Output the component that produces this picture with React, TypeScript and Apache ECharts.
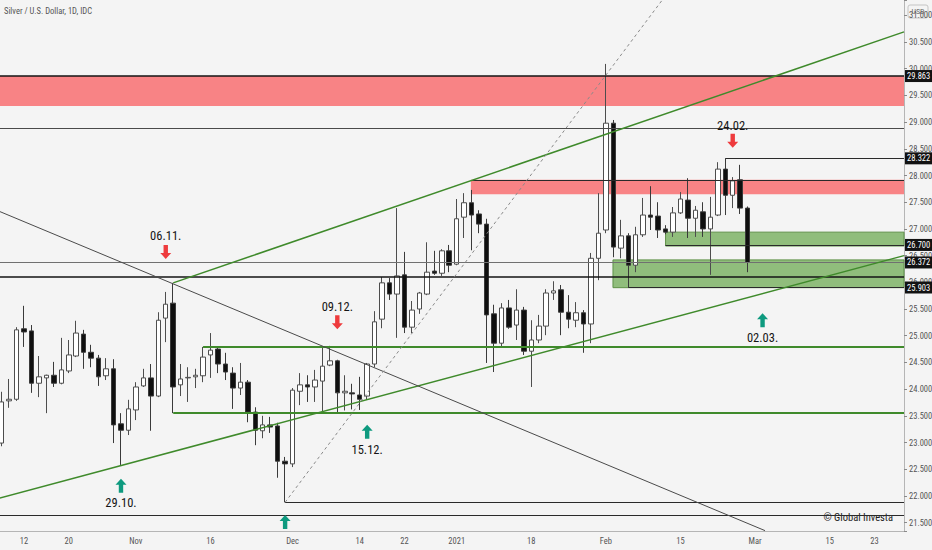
import React, { useEffect, useRef } from 'react';
import * as echarts from 'echarts';

// date, open, close, low, high
const candles: [string, number, number, number, number][] = [
  ['2020-10-07', 22.99, 23.76, 22.93, 23.95],
  ['2020-10-08', 23.78, 23.81, 23.65, 24.19],
  ['2020-10-09', 23.81, 25.11, 23.78, 25.16],
  ['2020-10-12', 25.13, 25.07, 24.79, 25.56],
  ['2020-10-13', 25.09, 24.11, 23.93, 25.2],
  ['2020-10-14', 24.11, 24.23, 23.85, 24.62],
  ['2020-10-15', 24.21, 24.26, 23.55, 24.27],
  ['2020-10-16', 24.26, 24.11, 24.04, 24.51],
  ['2020-10-19', 24.11, 24.36, 24.09, 24.96],
  ['2020-10-20', 24.34, 24.64, 24.3, 24.92],
  ['2020-10-21', 24.62, 25.05, 24.6, 25.28],
  ['2020-10-22', 25.03, 24.69, 24.38, 25.11],
  ['2020-10-23', 24.69, 24.58, 24.41, 24.83],
  ['2020-10-26', 24.58, 24.23, 24.06, 24.64],
  ['2020-10-27', 24.25, 24.38, 24.17, 24.58],
  ['2020-10-28', 24.38, 23.33, 22.99, 24.56],
  ['2020-10-29', 23.35, 23.23, 22.58, 23.55],
  ['2020-10-30', 23.23, 23.63, 23.14, 23.8],
  ['2020-11-02', 23.61, 24.04, 23.42, 24.13],
  ['2020-11-03', 24.06, 24.21, 24.04, 24.38],
  ['2020-11-04', 24.21, 23.87, 23.22, 24.47],
  ['2020-11-05', 23.87, 25.29, 23.85, 25.44],
  ['2020-11-06', 25.33, 25.59, 24.88, 25.82],
  ['2020-11-09', 25.61, 24.04, 23.55, 25.99],
  ['2020-11-10', 24.08, 24.19, 23.87, 24.47],
  ['2020-11-11', 24.21, 24.22, 23.76, 24.41],
  ['2020-11-12', 24.23, 24.26, 24.02, 24.38],
  ['2020-11-13', 24.25, 24.6, 24.13, 24.79],
  ['2020-11-16', 24.64, 24.73, 24.21, 25.05],
  ['2020-11-17', 24.75, 24.47, 24.3, 24.79],
  ['2020-11-18', 24.47, 24.32, 24.17, 24.68],
  ['2020-11-19', 24.3, 24.02, 23.63, 24.41],
  ['2020-11-20', 24.02, 24.13, 23.89, 24.49],
  ['2020-11-23', 24.13, 23.57, 23.38, 24.17],
  ['2020-11-24', 23.57, 23.23, 22.95, 23.66],
  ['2020-11-25', 23.22, 23.33, 23.08, 23.5],
  ['2020-11-26', 23.33, 23.29, 23.18, 23.48],
  ['2020-11-27', 23.31, 22.65, 22.34, 23.37],
  ['2020-11-30', 22.65, 22.6, 21.88, 22.73],
  ['2020-12-01', 22.6, 23.98, 22.54, 24.02],
  ['2020-12-02', 23.96, 24.08, 23.7, 24.3],
  ['2020-12-03', 24.08, 24.04, 23.76, 24.26],
  ['2020-12-04', 24.04, 24.17, 23.76, 24.36],
  ['2020-12-07', 24.15, 24.43, 23.57, 24.79],
  ['2020-12-08', 24.45, 24.53, 24.43, 24.81],
  ['2020-12-09', 24.53, 23.93, 23.57, 24.55],
  ['2020-12-10', 23.93, 23.96, 23.6, 24.26],
  ['2020-12-11', 23.93, 23.91, 23.62, 24.1],
  ['2020-12-14', 23.89, 23.81, 23.61, 24.23],
  ['2020-12-15', 23.87, 24.47, 23.8, 24.49],
  ['2020-12-16', 24.47, 25.26, 24.41, 25.46],
  ['2020-12-17', 25.31, 25.99, 25.14, 26.1],
  ['2020-12-18', 25.99, 25.78, 25.67, 26.08],
  ['2020-12-21', 25.78, 26.12, 24.96, 27.39],
  ['2020-12-22', 26.14, 25.16, 25.05, 26.57],
  ['2020-12-23', 25.16, 25.48, 25.05, 25.65],
  ['2020-12-24', 25.5, 25.8, 25.41, 25.82],
  ['2020-12-28', 25.78, 26.19, 25.76, 26.75],
  ['2020-12-29', 26.21, 26.17, 26.14, 26.59],
  ['2020-12-30', 26.17, 26.59, 26.12, 26.62],
  ['2020-12-31', 26.59, 26.32, 26.19, 26.7],
  ['2021-01-04', 26.34, 27.19, 26.32, 27.56],
  ['2021-01-05', 27.22, 27.49, 26.83, 27.67],
  ['2021-01-06', 27.49, 27.26, 26.6, 27.73],
  ['2021-01-07', 27.28, 27.09, 26.92, 27.35],
  ['2021-01-08', 27.09, 25.39, 24.49, 27.19],
  ['2021-01-11', 25.41, 24.86, 24.32, 25.58],
  ['2021-01-12', 24.86, 25.52, 24.77, 25.61],
  ['2021-01-13', 25.52, 25.16, 25.13, 25.67],
  ['2021-01-14', 25.2, 25.48, 24.92, 25.87],
  ['2021-01-15', 25.48, 24.71, 24.64, 25.54],
  ['2021-01-18', 24.71, 24.92, 24.04, 25.29],
  ['2021-01-19', 24.92, 25.18, 24.86, 25.39],
  ['2021-01-20', 25.18, 25.8, 25.01, 25.87],
  ['2021-01-21', 25.8, 25.84, 25.67, 26.02],
  ['2021-01-22', 25.86, 25.44, 25.01, 25.95],
  ['2021-01-25', 25.44, 25.31, 25.14, 25.76],
  ['2021-01-26', 25.29, 25.43, 25.16, 25.63],
  ['2021-01-27', 25.43, 25.22, 24.68, 25.48],
  ['2021-01-28', 25.22, 26.45, 24.86, 26.55],
  ['2021-01-29', 26.45, 26.92, 26.04, 27.67],
  ['2021-02-01', 26.98, 28.98, 26.92, 30.09],
  ['2021-02-02', 28.98, 26.66, 26.47, 29.04],
  ['2021-02-03', 26.64, 26.87, 26.45, 27.17],
  ['2021-02-04', 26.87, 26.32, 25.91, 26.92],
  ['2021-02-05', 26.32, 26.89, 26.19, 27.04],
  ['2021-02-08', 26.89, 27.26, 26.85, 27.58],
  ['2021-02-09', 27.26, 27.22, 26.98, 27.8],
  ['2021-02-10', 27.24, 26.98, 26.83, 27.5],
  ['2021-02-11', 27.0, 26.94, 26.9, 27.07],
  ['2021-02-12', 26.94, 27.3, 26.85, 27.41],
  ['2021-02-15', 27.3, 27.56, 27.28, 27.69],
  ['2021-02-16', 27.54, 27.2, 26.83, 27.95],
  ['2021-02-17', 27.2, 27.35, 26.85, 27.43],
  ['2021-02-18', 27.32, 27.0, 26.85, 27.5],
  ['2021-02-19', 27.0, 27.22, 26.14, 27.6],
  ['2021-02-22', 27.26, 28.12, 27.24, 28.25],
  ['2021-02-23', 28.12, 27.63, 27.26, 28.32],
  ['2021-02-24', 27.63, 27.9, 27.39, 27.97],
  ['2021-02-25', 27.92, 27.39, 27.28, 28.2],
  ['2021-02-26', 27.39, 26.372, 26.19, 27.42],
];

// bar index -> tick label
const xTickLabels: [number, string][] = [
  [3, '12'], [9, '20'], [18, 'Nov'], [28, '16'], [39, 'Dec'], [48, '14'], [54, '22'],
  [61, '2021'], [71, '18'], [81, 'Feb'], [91, '15'], [101, 'Mar'], [111, '15'], [117, '23'],
];

const X_MIN = -0.5;
const X_MAX = 120.96;
const Y_MIN = 21.343;
const Y_MAX = 31.287;

// horizontal levels
const levels = [
  { price: 29.863, from: X_MIN, kind: 'heavy', badge: true },
  { price: 28.89, from: X_MIN, kind: 'gray', badge: false },
  { price: 28.322, from: 97, kind: 'thin', badge: true },
  { price: 27.92, from: 62.9, kind: 'thin', badge: false },
  { price: 26.7, from: 89, kind: 'thin', badge: true },
  { price: 26.372, from: X_MIN, kind: 'last', badge: true },
  { price: 26.1, from: X_MIN, kind: 'heavy', badge: false },
  { price: 25.903, from: 84, kind: 'thin', badge: true },
  { price: 24.79, from: 27, kind: 'green', badge: false },
  { price: 23.56, from: 23, kind: 'green', badge: false },
  { price: 21.88, from: 38, kind: 'thin', badge: false },
  { price: 21.64, from: X_MIN, kind: 'thin', badge: false },
];

// zones
const zones = [
  { from: X_MIN, low: 29.3, high: 29.863, kind: 'supply' },
  { from: 62.9, low: 27.65, high: 27.92, kind: 'supply' },
  { from: 89, low: 26.68, high: 26.94, kind: 'demand' },
  { from: 81.95, low: 25.9, high: 26.42, kind: 'demand' },
];

// trend lines
const trendLines = [
  { x1: 23, y1: 25.99, x2: X_MAX, y2: 30.69, kind: 'channel' },
  { x1: X_MIN, y1: 21.95, x2: X_MAX, y2: 26.5, kind: 'channel' },
  { x1: X_MIN, y1: 27.34, x2: 102.33, y2: 21.35, kind: 'gray' },
  { x1: 38, y1: 21.88, x2: 88.52, y2: 31.28, kind: 'dotted' },
];

// signals
const signals = [
  { idx: 22, arrow: 26.57, textAt: 26.87, text: '06.11.', dir: 'down' },
  { idx: 45, arrow: 25.25, textAt: 25.54, text: '09.12.', dir: 'down' },
  { idx: 98, arrow: 28.65, textAt: 28.93, text: '24.02.', dir: 'down' },
  { idx: 16, arrow: 22.19, textAt: 21.87, text: '29.10.', dir: 'up' },
  { idx: 49, arrow: 23.2, textAt: 22.86, text: '15.12.', dir: 'up' },
  { idx: 102, arrow: 25.29, textAt: 24.96, text: '02.03.', dir: 'up' },
  { idx: 38, arrow: 21.51, textAt: null, text: '', dir: 'up' },
];

const FONT = '"Liberation Sans Narrow", "Roboto Condensed", "DejaVu Sans Condensed", "Liberation Sans", sans-serif';

const lineStyles: Record<string, any> = {
  heavy: { color: '#141414', width: 1.6, type: 'solid' },
  thin: { color: '#2a2a2a', width: 1, type: 'solid' },
  gray: { color: '#4a4a4a', width: 1, type: 'solid' },
  last: { color: '#707070', width: 1, type: 'solid' },
  green: { color: '#3f8a2b', width: 2, type: 'solid' },
  channel: { color: '#3f8a2b', width: 1.5, type: 'solid' },
  dotted: { color: '#8a8a8a', width: 1, type: [3, 3] },
};

const zoneStyles: Record<string, any> = {
  supply: { color: '#f88385', borderColor: '#f88385', borderWidth: 0 },
  demand: { color: '#90bd7c', borderColor: '#5e9148', borderWidth: 1 },
};

const UP_ARROW = 'path://M5,0 L10,6 L7,6 L7,14 L3,14 L3,6 L0,6 Z';
const DOWN_ARROW = 'path://M3,0 L7,0 L7,8 L10,8 L5,14 L0,8 L3,8 Z';

export default function App() {
  const ref = useRef<HTMLDivElement>(null);

  useEffect(() => {
    document.body.style.margin = '0';
    const chart = echarts.init(ref.current as HTMLDivElement, null, { renderer: 'svg' });
    const labelMap = new Map<number, string>(xTickLabels);

    const markLineData: any[] = [];
    levels.forEach((l) => {
      markLineData.push([
        {
          coord: [l.from, l.price],
          lineStyle: lineStyles[l.kind],
          label: l.badge
            ? {
                show: true,
                position: 'end',
                distance: 1,
                formatter: l.price.toFixed(3),
                backgroundColor: '#121212',
                color: '#ffffff',
                padding: [2, 3, 1, 2],
                fontSize: 8.5,
                fontFamily: FONT,
              }
            : { show: false },
        },
        { coord: [X_MAX, l.price] },
      ]);
    });
    trendLines.forEach((t) => {
      markLineData.push([
        { coord: [t.x1, t.y1], lineStyle: lineStyles[t.kind], label: { show: false } },
        { coord: [t.x2, t.y2] },
      ]);
    });

    const markAreaData = zones.map((z) => [
      { coord: [z.from, z.high], itemStyle: zoneStyles[z.kind] },
      { coord: [X_MAX, z.low] },
    ]);

    const markPointData: any[] = [];
    signals.forEach((s) => {
      markPointData.push({
        coord: [s.idx, s.arrow],
        symbol: s.dir === 'up' ? UP_ARROW : DOWN_ARROW,
        symbolSize: [11, 14],
        itemStyle: { color: s.dir === 'up' ? '#0e9a7f' : '#ee3b3d' },
        label: { show: false },
      });
      if (s.textAt !== null) {
        markPointData.push({
          coord: [s.idx, s.textAt],
          symbol: 'rect',
          symbolSize: 1,
          itemStyle: { color: 'rgba(0,0,0,0)' },
          label: {
            show: true,
            position: 'inside',
            formatter: s.text,
            color: '#151515',
            fontSize: 12.5,
            fontFamily: FONT,
          },
        });
      }
    });

    const option: any = {
      animation: false,
      backgroundColor: '#f4f4f4',
      grid: {
        left: -2.11,
        right: 28,
        top: 0,
        bottom: 19,
        containLabel: false,
        outerBoundsMode: 'none',
      },
      xAxis: {
        type: 'value',
        min: X_MIN,
        max: X_MAX,
        interval: 0.5,
        axisLine: { show: true, onZero: false, lineStyle: { color: '#b5b5b5', width: 1 } },
        axisTick: { show: false },
        splitLine: { show: false },
        axisLabel: {
          color: '#555555',
          fontSize: 8.5,
          fontFamily: FONT,
          margin: 5,
          formatter: (v: number) => {
            const k = Math.round(v * 2) / 2;
            return Number.isInteger(k) ? labelMap.get(k) ?? '' : '';
          },
        },
      },
      yAxis: {
        type: 'value',
        position: 'right',
        min: Y_MIN,
        max: Y_MAX,
        splitNumber: 20,
        axisLine: { show: true, onZero: false, lineStyle: { color: '#b5b5b5', width: 1 } },
        axisTick: { show: true, length: 3, lineStyle: { color: '#8a8a8a' } },
        splitLine: { show: false },
        axisLabel: {
          color: '#555555',
          fontSize: 8.5,
          fontFamily: FONT,
          margin: 5,
          formatter: (v: number) =>
            Math.abs(v * 2 - Math.round(v * 2)) < 1e-6 ? v.toFixed(3) : '',
        },
      },
      series: [
        {
          type: 'candlestick',
          data: candles.map((c, i) => [i, c[1], c[2], c[3], c[4]]),
          encode: { x: 0, y: [1, 2, 3, 4] },
          barWidth: 5,
          clip: false,
          itemStyle: {
            color: '#ffffff',
            color0: '#0f0f0f',
            borderColor: '#4d4d4d',
            borderColor0: '#3a3a3a',
            borderWidth: 1,
          },
          markArea: { silent: true, data: markAreaData },
          markLine: { silent: true, symbol: ['none', 'none'], data: markLineData },
          markPoint: { silent: true, data: markPointData },
        },
      ],
      graphic: [
        {
          type: 'text',
          left: 4,
          top: 6,
          style: { text: 'Silver / U.S. Dollar, 1D, IDC', fill: '#555555', fontSize: 8.5, fontFamily: FONT },
        },
        {
          type: 'rect',
          shape: { x: 908, y: 5, width: 20, height: 13, r: 2 },
          style: { fill: '#f4f4f4', stroke: '#c4c4c4', lineWidth: 1 },
        },
        {
          type: 'text',
          x: 918,
          y: 11.5,
          style: { text: 'USD', fill: '#666666', fontSize: 8, fontFamily: FONT, align: 'center', verticalAlign: 'middle' },
        },
        {
          type: 'text',
          x: 893,
          y: 517,
          style: { text: '© Global Investa', fill: '#1e1e1e', fontSize: 10.5, fontFamily: FONT, align: 'right', verticalAlign: 'middle' },
        },
      ],
    };

    chart.setOption(option);
    return () => chart.dispose();
  }, []);

  return <div ref={ref} style={{ position: 'absolute', left: 0, top: 0, width: 932, height: 550 }} />;
}
